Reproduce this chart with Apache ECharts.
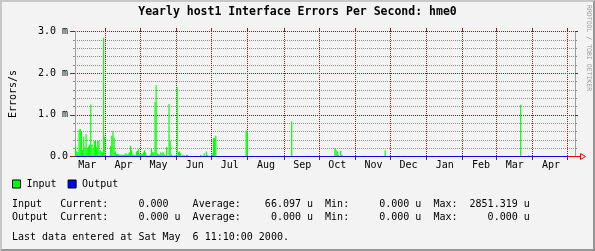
<!DOCTYPE html>
<html><head><meta charset="utf-8">
<script src="https://cdn.jsdelivr.net/npm/echarts@6/dist/echarts.min.js"></script>
<style>
html,body{margin:0;padding:0;background:#f3f3f3;}
#wrap{position:relative;width:595px;height:251px;}
#chart{width:595px;height:251px;}
#frame{position:absolute;left:0;top:0;width:595px;height:251px;box-sizing:border-box;pointer-events:none;
 border-top:2px solid #c8c8c8;border-left:2px solid #c8c8c8;border-right:2px solid #969696;border-bottom:2px solid #969696;}
</style></head>
<body><div id="wrap"><div id="chart"></div><div id="frame"></div></div>
<script>
// ---------------- texts ----------------
const chartTitle = 'Yearly host1 Interface Errors Per Second: hme0';
const yAxisName = 'Errors/s';
const monthNames = ['Jan','Feb','Mar','Apr','May','Jun','Jul','Aug','Sep','Oct','Nov','Dec'];
const yTicks = [0, 1, 2, 3];                       // milli-errors/s
const yTickLabels = ['0.0', '1.0 m', '2.0 m', '3.0 m'];
const seriesNames = ['Input', 'Output'];
const statInput  = ['Input',  'Current:', '0.000',   'Average:', '66.097 u', 'Min:', '0.000 u', 'Max:', '2851.319 u'];
const statOutput = ['Output', 'Current:', '0.000 u', 'Average:', '0.000 u',  'Min:', '0.000 u', 'Max:', '0.000 u'];
const lastDataLine = 'Last data entered at Sat May  6 11:10:00 2000.';
const watermark = 'RRDTOOL / TOBI OETIKER';

// ---------------- time span (one category per day) ----------------
const firstDay = '1999-03-06';
const lastDay = '2000-05-06';
const outputLastDay = '2000-04-30';
const outputLevel = 0;   // Output max 0.000 -> flat line at zero

// ---------------- Input values, m errors/s ----------------
const blockStarts = ['1999-03-06', '1999-04-01', '1999-05-01', '1999-06-01'];
const inputMar99 = [0.25,0.12,0.10,0.64,0.66,0.60,0.16,0.48,0.22,0.54,0.20,0.24,0.28,1.25,0.28,0.20,0.38,0.38,0.22,0.37,0.37,0.15,0.12,0.10,2.85,0.47];
const inputApr99 = [0.02,0.01,0,0.02,0.25,0.50,0.62,0.45,0.12,0.06,0.06,0.05,0.05,0.04,0.04,0.04,0.05,0.08,0.05,0.06,0.10,0.26,0.15,0.05,0.04,0.03,0.12,0.14,0.18,0.06];
const inputMay99 = [0.06,0.06,0.10,0.15,0.10,0.03,0,0.02,0.05,0.18,0.10,0.10,1.30,1.71,0.07,0.05,0.05,0.10,0.08,0.10,0.05,0.02,0.23,0.02,1.26,0.38,0.05,0.02,0.02,0.03,0.02];
const inputJun99 = [1.66,0.10,0.12,0.08,0,0.04,0.03,0,0.04,0.04,0,0,0,0,0,0,0,0,0,0,0.04,0.02,0,0.08,0,0.12,0.03,0,0,0];
const spikeDates = ['1999-07-01','1999-07-02','1999-07-03','1999-07-04','1999-07-30','1999-07-31','1999-09-07','1999-10-14','1999-10-15','1999-10-16','1999-10-17','1999-10-19','1999-10-20','1999-11-26','2000-03-21','2000-03-28'];
const spikeValues = [0.08,0.44,0.44,0.50,0.62,0.60,0.84,0.20,0.16,0.12,0.04,0.14,0.04,0.15,1.24,0.03];

// ---------------- build daily category table ----------------
const days = [];
for (let t = Date.parse(firstDay + 'T00:00:00Z'); t <= Date.parse(lastDay + 'T00:00:00Z'); t += 86400000) {
  days.push(new Date(t).toISOString().slice(0, 10));
}
const dayIndex = {};
days.forEach((d, i) => { dayIndex[d] = i; });
const inputData = days.map(() => null);
[inputMar99, inputApr99, inputMay99, inputJun99].forEach((arr, b) => {
  const i0 = dayIndex[blockStarts[b]];
  arr.forEach((v, k) => { inputData[i0 + k] = v; });
});
spikeDates.forEach((d, k) => { inputData[dayIndex[d]] = spikeValues[k]; });
const outputData = days.map(d => (d <= outputLastDay ? outputLevel : null));
const monthStarts = days.map((d, i) => (d.slice(8) === '01' ? i : -1)).filter(i => i >= 0);

const isMidMonth = (i, d) => d.slice(8) === '16';

// place fields on monospace character columns (like rrdtool's fixed font)
function atColumns(fields, cols) {
  let s = '';
  fields.forEach((f, k) => { s = s.padEnd(cols[k], ' ') + f; });
  return s;
}
const statLine1 = atColumns(statInput,  [0, 8, 21, 30, 42, 52, 61, 70, 76]);
const statLine2 = atColumns(statOutput, [0, 8, 21, 30, 43, 52, 61, 70, 79]);

const MONO = '"DejaVu Sans Mono", monospace';
const MGRID = '#821e1e';
const GRID = '#8c8c8c';
const AXIS = '#a0a0a0';

// month grid lines: crisp dotted vertical lines at the start of each month's band
function renderMonthLine(params, api) {
  const p = api.coord([api.value(0), 0]);
  const bw = api.size([1, 0])[0];
  const x = Math.floor(p[0] - bw / 2) + 0.5;
  const cs = params.coordSys;
  const top = Math.floor(cs.y), bottom = Math.floor(cs.y + cs.height);
  return {
    type: 'group', children: [
      {type: 'line', shape: {x1: x, y1: top, x2: x, y2: bottom}, style: {stroke: MGRID, lineWidth: 1, lineDash: [1, 1]}},
      {type: 'line', shape: {x1: x, y1: top - 3, x2: x, y2: top}, style: {stroke: MGRID, lineWidth: 1}},
      {type: 'line', shape: {x1: x, y1: bottom + 1, x2: x, y2: bottom + 4}, style: {stroke: MGRID, lineWidth: 1}}
    ]
  };
}

const chart = echarts.init(document.getElementById('chart'), null, {renderer: 'canvas'});
chart.setOption({
  animation: false,
  backgroundColor: '#f3f3f3',
  title: {
    text: chartTitle, left: 'center', top: 0, padding: 5,
    textStyle: {fontFamily: MONO, fontSize: 11.5, fontWeight: 'bold', color: '#000', lineHeight: 14}
  },
  legend: {
    data: seriesNames, left: 12, top: 178, padding: 0,
    icon: 'rect', itemWidth: 8, itemHeight: 8, itemGap: 11,
    itemStyle: {borderColor: '#000', borderWidth: 1},
    textStyle: {fontFamily: MONO, fontSize: 10, color: '#000', lineHeight: 12, padding: [0, 0, 0, 1]},
    selectedMode: false
  },
  grid: {left: 75, right: 20, top: 31.5, height: 125, outerBoundsMode: 'none', containLabel: false},
  xAxis: [{
    type: 'category', data: days, boundaryGap: true,
    axisLine: {show: true, lineStyle: {color: '#ff0000', width: 1}},
    axisTick: {show: false},
    axisLabel: {
      interval: isMidMonth, margin: 3,
      formatter: d => monthNames[+d.slice(5, 7) - 1],
      fontFamily: MONO, fontSize: 10, color: '#000', lineHeight: 12
    },
    splitLine: {show: false}
  }],
  yAxis: [{
    type: 'value', min: yTicks[0], max: yTicks[yTicks.length - 1], interval: 1,
    name: yAxisName, nameLocation: 'middle', nameRotate: 90, nameGap: 57,
    nameTextStyle: {fontFamily: MONO, fontSize: 10, color: '#000'},
    axisLine: {show: true, lineStyle: {color: AXIS, width: 1}},
    axisTick: {show: true, length: 5, lineStyle: {color: MGRID}},
    minorTick: {show: true, splitNumber: 5, length: 2, lineStyle: {color: GRID}},
    axisLabel: {
      margin: 7, fontFamily: MONO, fontSize: 10, color: '#000',
      formatter: v => yTickLabels[yTicks.indexOf(v)]
    },
    splitLine: {show: true, lineStyle: {color: MGRID, type: [1, 1], width: 1}},
    minorSplitLine: {show: true, lineStyle: {color: GRID, type: [1, 1], width: 1}}
  }, {
    type: 'value', position: 'right', min: yTicks[0], max: yTicks[yTicks.length - 1], interval: 1,
    axisLine: {show: true, lineStyle: {color: AXIS, width: 1}},
    axisTick: {show: true, length: 3, lineStyle: {color: MGRID}},
    minorTick: {show: true, splitNumber: 5, length: 2, lineStyle: {color: GRID}},
    axisLabel: {show: false}, splitLine: {show: false}
  }],
  series: [{
    type: 'custom', name: 'monthGrid', data: monthStarts.map(i => [i, 0]),
    xAxisIndex: 0, yAxisIndex: 0, renderItem: renderMonthLine, silent: true, z: 1, clip: false
  }, {
    name: seriesNames[0], type: 'bar', data: inputData,
    xAxisIndex: 0, yAxisIndex: 0,
    barCategoryGap: '0%', barGap: '0%',
    itemStyle: {color: '#00ff00'}, silent: true, z: 2
  }, {
    name: seriesNames[1], type: 'line', data: outputData,
    xAxisIndex: 0, yAxisIndex: 0, symbol: 'none',
    lineStyle: {color: '#0000ff', width: 1}, itemStyle: {color: '#0000ff'}, silent: true, z: 3
  }],
  graphic: [
    {type: 'polyline', silent: true, z: 10, shape: {points: [[575, 156.5], [580, 156.5]]}, style: {stroke: '#ff0000', lineWidth: 1}},
    {type: 'polygon', silent: true, z: 10, shape: {points: [[580.5, 153.5], [585.5, 156.5], [580.5, 159.5]]}, style: {stroke: '#ff0000', fill: 'none', lineWidth: 1}},
    {type: 'text', silent: true, x: 589, y: 5, rotation: -Math.PI / 2,
     style: {text: watermark, font: '6.5px ' + MONO, fill: '#9a9a9a', align: 'left', verticalAlign: 'middle'}},
    {type: 'text', silent: true, x: 12, y: 204.3,
     style: {text: statLine1, font: '10px ' + MONO, fill: '#000', align: 'left', verticalAlign: 'middle'}},
    {type: 'text', silent: true, x: 12, y: 217.3,
     style: {text: statLine2, font: '10px ' + MONO, fill: '#000', align: 'left', verticalAlign: 'middle'}},
    {type: 'text', silent: true, x: 12, y: 237.3,
     style: {text: lastDataLine, font: '10px ' + MONO, fill: '#000', align: 'left', verticalAlign: 'middle'}}
  ]
});
</script>
</body></html>
